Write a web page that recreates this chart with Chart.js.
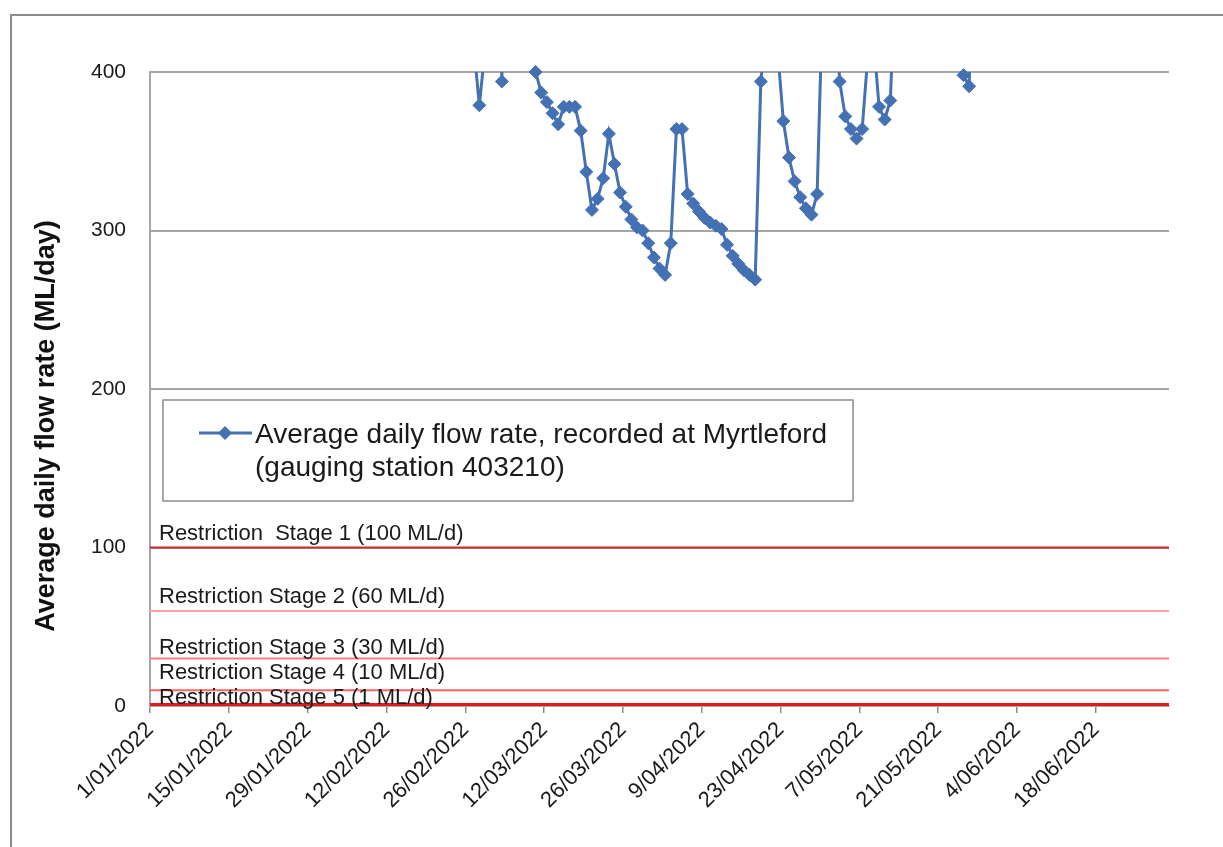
<!DOCTYPE html>
<html>
<head>
<meta charset="utf-8">
<script src="https://cdn.jsdelivr.net/npm/chart.js@4.4.1/dist/chart.umd.min.js"></script>
<style>
  body { margin: 0; background: #fff; }
  #frame { position: absolute; left: 10px; top: 14px; width: 1213px; height: 833px;
           border-top: 2px solid #8c8c8c; border-left: 2px solid #8c8c8c; }
  #flow-chart { position: absolute; left: 0; top: 0; }
</style>
</head>
<body>
<div id="frame"></div>
<canvas id="flow-chart" width="1223" height="847"></canvas>
<script>
// x axis counts days from 1/01/2022, one tick every 14 days
const tickLabels = ['1/01/2022', '15/01/2022', '29/01/2022', '12/02/2022', '26/02/2022', '12/03/2022',
  '26/03/2022', '9/04/2022', '23/04/2022', '7/05/2022', '21/05/2022', '4/06/2022', '18/06/2022'];
const tickStep = 14;
const axisDays = 181;
const yTicks = [0, 100, 200, 300, 400];
const yTitle = 'Average daily flow rate (ML/day)';

// daily flow (ML/day) from 26/02/2022 (day 56) on, values above 400 run off the top
const firstDay = 56;
const flowValues = [
  520, 417, 379, 414, 470, 690, 394, 640, 610, 560,
  520, 470, 400, 387, 381, 374, 367, 378, 378, 378,
  363, 337, 313, 320, 333, 361, 342, 324, 315, 307,
  302, 300, 292, 283, 276, 272, 292, 364, 364, 323,
  317, 312, 308, 305, 303, 301, 291, 284, 279, 275,
  272, 269, 394, 430, 450, 413, 369, 346, 331, 321,
  314, 310, 323, 450, 520, 470, 394, 372, 364, 358,
  364, 410, 422, 378, 370, 382, 470, 540, 610, 650,
  600, 560, 530, 500, 480, 460, 440, 430, 398, 391,
  520
];

const stageLimits = [100, 60, 30, 10, 1];
const stageLabels = ['Restriction  Stage 1 (100 ML/d)', 'Restriction Stage 2 (60 ML/d)',
  'Restriction Stage 3 (30 ML/d)', 'Restriction Stage 4 (10 ML/d)', 'Restriction Stage 5 (1 ML/d)'];
const seriesName = ['Average daily flow rate, recorded at Myrtleford', '(gauging station 403210)'];

const stageColours = ['#cc2b2b', '#ff9e9e', '#ff7c7c', '#ff6464', '#e01b1b'];
const labelShift = [-8, -8, -4, -11, 0];
const blue = '#4471b3';
const ink = '#1a1a1a';
const yMax = 400;
const fontName = '"Liberation Sans", Arial, sans-serif';

Chart.defaults.font.family = fontName;

// points sit in the middle of their day slot (Excel date axis)
const flowPoints = flowValues.map((v, i) => ({ x: firstDay + i + 0.5, y: v }));

const stageSets = stageLimits.map((v, i) => ({
  data: [{ x: 0, y: v }, { x: axisDays, y: v }],
  borderColor: stageColours[i],
  borderWidth: i === 4 ? 3 : 2,
  pointRadius: 0
}));

// draws the axis title, the threshold names and the boxed legend
const overlay = {
  id: 'overlay',
  afterDatasetsDraw(chart) {
    const { ctx, chartArea, scales } = chart;
    ctx.save();

    ctx.save();
    ctx.translate(47, 426);
    ctx.rotate(-Math.PI / 2);
    ctx.textAlign = 'center';
    ctx.textBaseline = 'middle';
    ctx.fillStyle = '#111';
    ctx.font = 'bold 27px ' + fontName;
    ctx.fillText(yTitle, 0, 0);
    ctx.restore();

    ctx.fillStyle = ink;
    ctx.font = '22px ' + fontName;
    stageLabels.forEach((t, i) => {
      const y = scales.y.getPixelForValue(stageLimits[i]) + labelShift[i];
      ctx.fillText(t, chartArea.left + 9, y);
    });

    const bx = chartArea.left + 13, by = chartArea.top + 328;
    ctx.fillStyle = '#fff';
    ctx.fillRect(bx, by, 690, 101);
    ctx.strokeStyle = '#8c8c8c';
    ctx.lineWidth = 1.5;
    ctx.strokeRect(bx, by, 690, 101);

    const ly = by + 33;
    ctx.strokeStyle = blue;
    ctx.lineWidth = 3;
    ctx.beginPath();
    ctx.moveTo(bx + 36, ly);
    ctx.lineTo(bx + 89, ly);
    ctx.stroke();
    ctx.fillStyle = blue;
    ctx.beginPath();
    ctx.moveTo(bx + 62 - 7, ly);
    ctx.lineTo(bx + 62, ly - 7);
    ctx.lineTo(bx + 62 + 7, ly);
    ctx.lineTo(bx + 62, ly + 7);
    ctx.closePath();
    ctx.fill();

    ctx.fillStyle = ink;
    ctx.font = '28px ' + fontName;
    ctx.fillText(seriesName[0], bx + 92, ly + 10);
    ctx.fillText(seriesName[1], bx + 92, ly + 43);
    ctx.restore();
  }
};

new Chart(document.getElementById('flow-chart'), {
  type: 'line',
  data: {
    datasets: [
      {
        data: flowPoints,
        showLine: false,
        clip: false,
        backgroundColor: blue,
        borderColor: blue,
        pointStyle: 'rectRot',
        pointBorderWidth: 1,
        pointRadius: c => (c.raw && c.raw.y <= yMax ? 6.5 : 0)
      },
      {
        data: flowPoints,
        borderColor: blue,
        borderWidth: 3,
        pointRadius: 0
      },
      ...stageSets
    ]
  },
  options: {
    responsive: false,
    animation: false,
    layout: { padding: { top: 72, right: 54, left: 0, bottom: 0 } },
    plugins: { legend: { display: false }, tooltip: { enabled: false } },
    scales: {
      x: {
        type: 'linear',
        min: 0,
        max: axisDays,
        afterBuildTicks: s => { s.ticks = tickLabels.map((_, i) => ({ value: i * tickStep })); },
        afterFit: s => { s.height = 141; },
        ticks: {
          autoSkip: false,
          minRotation: 45,
          maxRotation: 45,
          padding: 4,
          color: ink,
          font: { size: 22 },
          callback: (v, i) => tickLabels[i]
        },
        grid: { drawOnChartArea: false, drawTicks: true, tickLength: 7, color: '#8c8c8c', lineWidth: 1.5 },
        border: { color: '#a6a6a6', width: 2 }
      },
      y: {
        min: 0,
        max: yMax,
        afterBuildTicks: s => { s.ticks = yTicks.map(v => ({ value: v })); },
        afterFit: s => { s.width = 150; },
        ticks: { padding: 24, color: ink, font: { size: 21 } },
        grid: { color: '#a6a6a6', lineWidth: 2, drawTicks: false },
        border: { color: '#a6a6a6', width: 2 }
      }
    }
  },
  plugins: [overlay]
});
</script>
</body>
</html>
